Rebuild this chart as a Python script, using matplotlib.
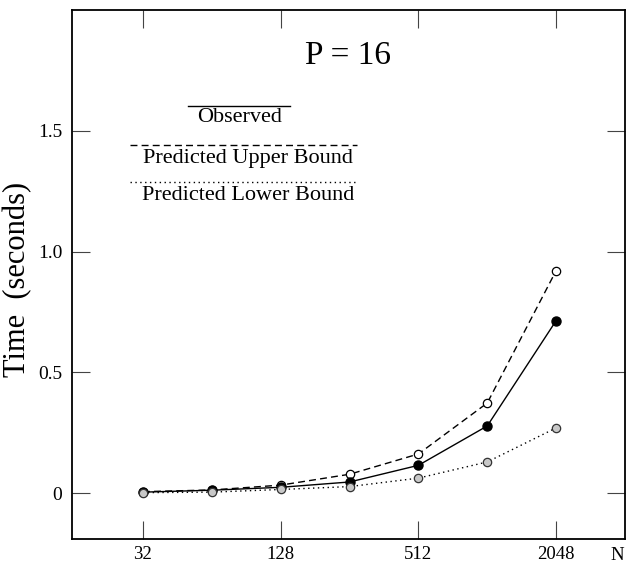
import matplotlib
matplotlib.use("Agg")
import matplotlib.pyplot as plt
from matplotlib.lines import Line2D

# ===============================
#  DATA
# ===============================
N = [32, 64, 128, 256, 512, 1024, 2048]
observed = [0.004, 0.012, 0.024, 0.046, 0.115, 0.278, 0.714]
upper_bound = [0.006, 0.013, 0.033, 0.078, 0.162, 0.373, 0.921]
lower_bound = [0.002, 0.004, 0.015, 0.027, 0.062, 0.129, 0.270]

x_ticks = [32, 128, 512, 2048]
x_tick_labels = ["32", "128", "512", "2048"]
y_ticks = [0, 0.5, 1.0, 1.5]
y_tick_labels = ["0", "0.5", "1.0", "1.5"]

plt.rcParams["font.family"] = ["Liberation Serif", "DejaVu Serif"]

W, H = 627, 565
fig = plt.figure(figsize=(W / 100, H / 100), dpi=100)
ax = fig.add_axes([72 / W, 1 - 539 / H, (625 - 72) / W, (539 - 10) / H])

# draw order: upper, observed, lower (grey ones sit on top at small N)
ax.plot(N, upper_bound, color="black", linestyle=(0, (5, 3)), linewidth=1.0,
        marker="o", markersize=6, markerfacecolor="white",
        markeredgecolor="black", markeredgewidth=0.9)
ax.plot(N, observed, color="black", linestyle="-", linewidth=1.0,
        marker="o", markersize=6.5, markerfacecolor="black",
        markeredgecolor="black")
ax.plot(N, lower_bound, color="black", linestyle=(0, (1, 2.5)), linewidth=1.0,
        marker="o", markersize=6, markerfacecolor="#c8c8c8",
        markeredgecolor="#333333", markeredgewidth=0.9)

ax.set_xscale("log", base=2)
ax.set_xlim(2 ** 3.97, 4096)
ax.set_ylim(-0.19, 2.0)

ax.set_xticks(x_ticks)
ax.set_xticklabels(x_tick_labels)
ax.minorticks_off()
ax.set_yticks(y_ticks)
ax.set_yticklabels(y_tick_labels)

ax.tick_params(axis="both", direction="in", length=13, width=0.8,
               color="#444444", labelsize=14, top=True, right=True)
ax.tick_params(axis="x", pad=5, labelsize=13.5)
ax.tick_params(axis="y", pad=7)

for s in ax.spines.values():
    s.set_linewidth(1.3)

# "N" axis label sits at the end of the tick-label row
fig.text(617 / W, 1 - 555 / H, "N", fontsize=13.5, ha="center", va="center")

# y label
fig.text(18 / W, 1 - 279 / H, "Time  (seconds)", fontsize=22,
         rotation=90, ha="center", va="center")

# title inside the axes
fig.text(348 / W, 1 - 56 / H, "P = 16", fontsize=24, ha="center", va="center")

# hand-made key: a line above each label
key_items = [
    ("Observed", "-", 188, 290, 106, 240, 118),
    ("Predicted Upper Bound", (0, (5, 3)), 130, 357, 145, 248, 158),
    ("Predicted Lower Bound", (0, (1, 2.5)), 130, 357, 182, 248, 195),
]
for label, ls, x0, x1, ly, tx, ty in key_items:
    fig.add_artist(Line2D([x0 / W, x1 / W], [1 - ly / H, 1 - ly / H],
                          transform=fig.transFigure, color="black",
                          linestyle=ls, linewidth=1.0))
    fig.text(tx / W, 1 - ty / H, label, fontsize=16, ha="center", va="center")

fig.savefig("out.png", dpi=100)
